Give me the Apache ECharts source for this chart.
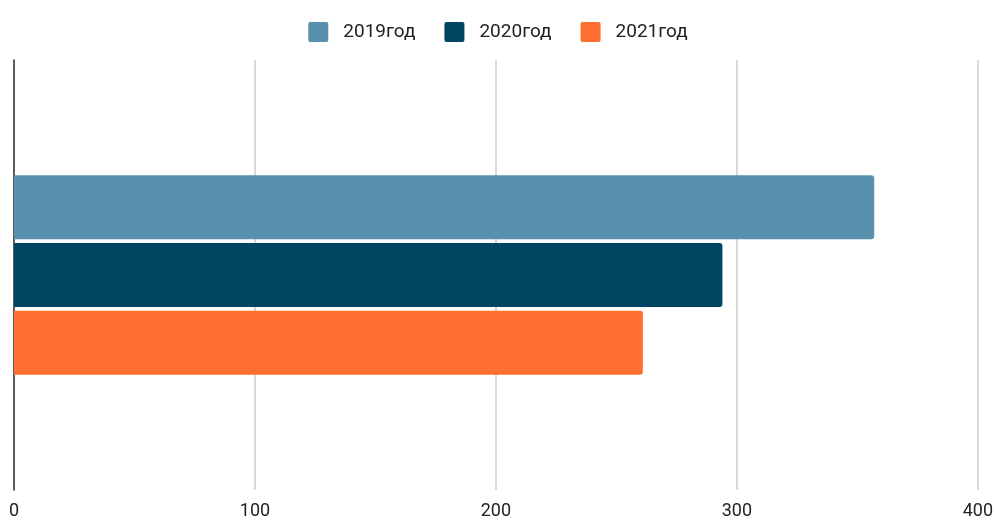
<!DOCTYPE html>
<html><head><meta charset="utf-8">
<script src="https://cdn.jsdelivr.net/npm/echarts@6/dist/echarts.min.js"></script>
<style>html,body{margin:0;padding:0;background:#fff}#c{width:996px;height:520px}</style>
</head><body><div id="c"></div>
<script>
const categories = [''];
const seriesNames = ['2019год', '2020год', '2021год'];
const values2019 = [357];
const values2020 = [294];
const values2021 = [261];
const xTicks = [0, 100, 200, 300, 400];
const colors = ['#5891AD', '#004561', '#FF6F31'];
const seriesValues = [values2019, values2020, values2021];

const squareIcon = 'path://M2,0 H18 A2,2 0 0 1 20,2 V18 A2,2 0 0 1 18,20 H2 A2,2 0 0 1 0,18 V2 A2,2 0 0 1 2,0 Z';
const chart = echarts.init(document.getElementById('c'));
chart.setOption({
  animation: false,
  textStyle: { fontFamily: 'Roboto, sans-serif' },
  legend: {
    top: 17, left: 'center', itemWidth: 20, itemHeight: 20, itemGap: 29,
    icon: squareIcon,
    textStyle: { fontSize: 19, color: '#222', fontFamily: 'Roboto, sans-serif', padding: [0, 0, 0, 10] },
    data: seriesNames
  },
  grid: { left: 14, right: 18, top: 60, bottom: 30, containLabel: false },
  xAxis: {
    type: 'value', min: xTicks[0], max: xTicks[xTicks.length - 1], interval: 100,
    axisLine: { show: false }, axisTick: { show: false },
    splitLine: { lineStyle: { color: '#cccccc', width: 1.5 } },
    axisLabel: { fontSize: 18, color: '#222', margin: 12 }
  },
  yAxis: {
    type: 'category', data: categories, inverse: true,
    axisLine: { show: true, lineStyle: { color: '#333', width: 1.5 } },
    axisTick: { show: false }, axisLabel: { show: false }, splitLine: { show: false }
  },
  series: seriesNames.map((n, i) => ({
    name: n, type: 'bar', data: seriesValues[i], barWidth: 64, barGap: '6%',
    itemStyle: { color: colors[i], borderRadius: [0, 3, 3, 0] }
  }))
});
</script></body></html>
